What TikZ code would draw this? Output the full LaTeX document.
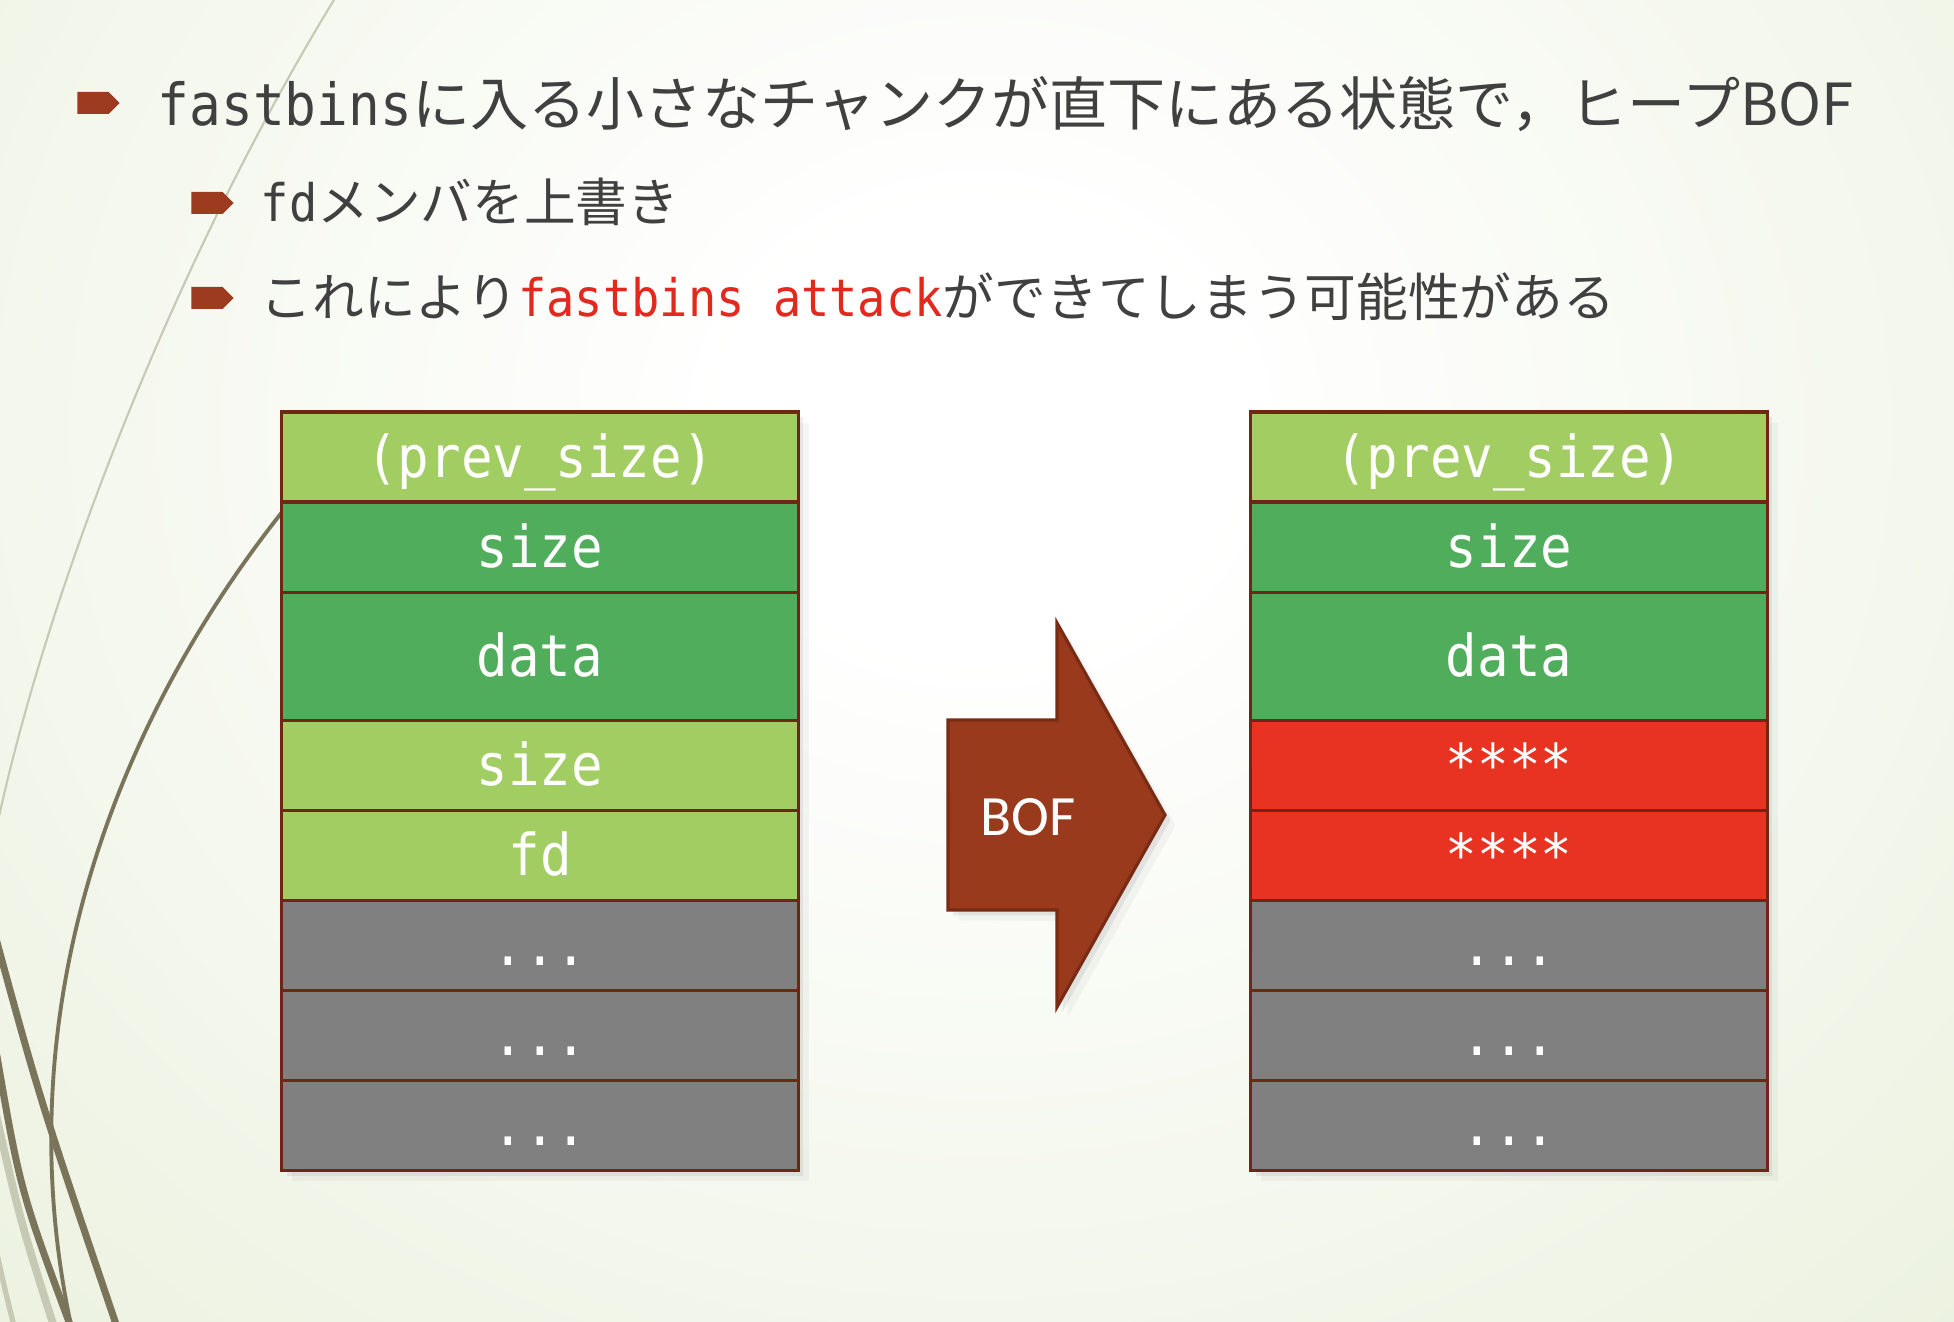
\documentclass[tikz,border=0pt]{standalone}
\usepackage{fontspec}
\setmainfont{Noto Sans CJK JP}
\newfontfamily\codefont[FakeStretch=0.91]{DejaVu Sans Mono}
\newfontfamily\bofont{Carlito}
\usetikzlibrary{positioning,shadows,shapes.symbols}
\definecolor{slidebg}{RGB}{225,234,206}
\definecolor{inkgray}{RGB}{64,64,64}
\definecolor{rust}{RGB}{156,59,31}
\definecolor{rim}{RGB}{112,38,20}
\definecolor{leafc}{RGB}{162,205,98}
\definecolor{grassc}{RGB}{80,173,91}
\definecolor{alertc}{RGB}{232,51,35}
\definecolor{ashc}{RGB}{128,128,128}
\definecolor{alertred}{RGB}{227,40,30}
\definecolor{arrowc}{RGB}{153,58,29}
\definecolor{arrowrim}{RGB}{122,43,20}
\definecolor{wispc}{RGB}{122,117,90}
\definecolor{wispfaint}{RGB}{198,201,180}
\pgfdeclareradialshading{slideglow}{\pgfpoint{0bp}{0bp}}{color(0bp)=(white); color(5bp)=(white); color(42bp)=(slidebg); color(50bp)=(slidebg)}

\begin{document}
\begin{tikzpicture}[x=0.01cm, y=-0.01cm,
  softshadow/.style={drop shadow={shadow xshift=1.5pt, shadow yshift=-1.5pt, opacity=0.14},
                     drop shadow={shadow xshift=3pt, shadow yshift=-3pt, opacity=0.07}},
  cell/.style={draw=rim, line width=0.9pt, minimum width=5.16cm, minimum height=0.9cm,
               inner sep=0pt, outer sep=0pt, text=white,
               font=\codefont\fontsize{16.4}{18}\selectfont,
               text height=11.5pt, text depth=0pt, softshadow},
  lite/.style={cell, fill=leafc},
  deep/.style={cell, fill=grassc},
  smash/.style={cell, fill=alertc},
  rest/.style={cell, fill=ashc},
  tall/.style={minimum height=1.28cm},
  bul/.style={signal, signal to=east, fill=rust, minimum width=0.42cm, minimum height=0.22cm, inner sep=0pt},
  itemtxt/.style={anchor=base west, inner sep=0pt, text=inkgray},
  bofarrow/.style={fill=arrowc, draw=arrowrim, line width=0.9pt, line join=miter, softshadow},
  wisp/.style={line cap=round, color=wispc}
]
  % slide background
  \useasboundingbox (0,0) rectangle (1954,1322);
  \begin{scope}
    \clip (0,0) rectangle (1954,1322);
    \shade[shading=slideglow] (-270,-670) rectangle (2230,1530);
    \draw[wisp, line width=0.6pt, color=wispfaint] (337,-5) .. controls (180,250) and (40,600) .. (-10,860);
    \draw[wisp, line width=2.2pt, color=wispfaint] (-5,1110) .. controls (20,1220) .. (55,1330);
    \draw[wisp, line width=1.5pt, color=wispfaint] (-5,1245) .. controls (5,1290) .. (15,1330);
    \draw[wisp, line width=1.1pt] (300,490) .. controls (125,700) and (0,1000) .. (72,1330);
    \draw[wisp, line width=2pt] (-5,935) .. controls (40,1100) .. (118,1330);
    \draw[wisp, line width=2pt] (-5,1045) .. controls (20,1190) .. (72,1330);
  \end{scope}

  % bullets
  \node[bul] (b1) at (93,103) {};
  \node[bul] (b2) at (207,203) {};
  \node[bul] (b3) at (207,298) {};
  \node[itemtxt, font=\fontsize{16.5}{20}\selectfont] (t1) at (157,126)
    {{\codefont fastbins}に入る小さなチャンクが直下にある状態で，ヒープBOF};
  \node[itemtxt, font=\fontsize{14.7}{18}\selectfont] (t2) at (260,222)
    {{\codefont fd}メンバを上書き};
  \node[itemtxt, font=\fontsize{14.7}{18}\selectfont] (t3) at (260,317)
    {これにより{\codefont\color{alertred}fastbins attack}ができてしまう可能性がある};

  % chunk before
  \node[lite, anchor=north] (l1) at (540,412) {(prev\_size)};
  \node[deep, below=0pt of l1] (l2) {size};
  \node[deep, tall, below=0pt of l2] (l3) {data};
  \node[lite, below=0pt of l3] (l4) {size};
  \node[lite, below=0pt of l4] (l5) {fd};
  \node[rest, below=0pt of l5] (l6) {...};
  \node[rest, below=0pt of l6] (l7) {...};
  \node[rest, below=0pt of l7] (l8) {...};

  % chunk after
  \node[lite, anchor=north] (r1) at (1509,412) {(prev\_size)};
  \node[deep, below=0pt of r1] (r2) {size};
  \node[deep, tall, below=0pt of r2] (r3) {data};
  \node[smash, below=0pt of r3] (r4) {****};
  \node[smash, below=0pt of r4] (r5) {****};
  \node[rest, below=0pt of r5] (r6) {...};
  \node[rest, below=0pt of r6] (r7) {...};
  \node[rest, below=0pt of r7] (r8) {...};

  % overflow arrow
  \draw[bofarrow] (948,720) -- (1057,720) -- (1057,623) -- (1165,815) -- (1057,1007)
    -- (1057,910) -- (948,910) -- cycle;
  \node[text=white, font=\bofont\fontsize{16.2}{18}\selectfont] (bof) at (1028,817) {BOF};
\end{tikzpicture}
\end{document}
